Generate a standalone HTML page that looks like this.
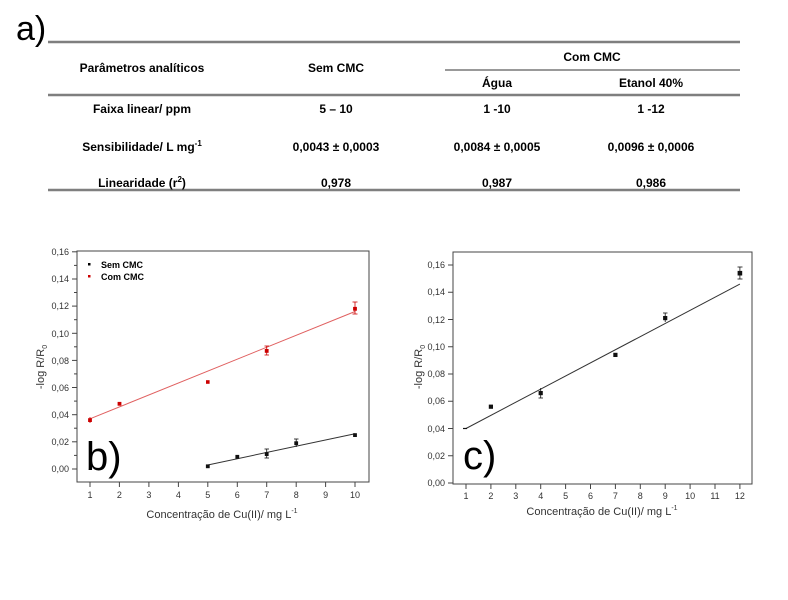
<!DOCTYPE html>
<html><head><meta charset="utf-8"><style>
body{margin:0;background:#fff;width:788px;height:600px;overflow:hidden}
svg{position:absolute;left:0;top:0}
text{font-family:"Liberation Sans",sans-serif}
</style></head><body>
<svg width="788" height="600" viewBox="0 0 788 600" xmlns="http://www.w3.org/2000/svg">
<!-- Table -->
<text x="16" y="40" font-size="34" fill="#000">a)</text>
<g stroke="#7f7f7f" stroke-width="2.5">
<line x1="48" y1="42" x2="740" y2="42"/>
<line x1="48" y1="95" x2="740" y2="95"/>
<line x1="48" y1="190" x2="740" y2="190"/>
</g>
<line x1="445" y1="70" x2="740" y2="70" stroke="#333" stroke-width="1"/>
<g font-size="12" font-weight="bold" text-anchor="middle" fill="#000">
<text x="142" y="72">Parâmetros analíticos</text>
<text x="336" y="72">Sem CMC</text>
<text x="592" y="61">Com CMC</text>
<text x="497" y="87">Água</text>
<text x="651" y="87">Etanol 40%</text>
<text x="142" y="113">Faixa linear/ ppm</text>
<text x="336" y="113">5 – 10</text>
<text x="497" y="113">1 -10</text>
<text x="651" y="113">1 -12</text>
<text x="142" y="151">Sensibilidade/ L mg<tspan font-size="8" dy="-5">-1</tspan></text>
<text x="336" y="151">0,0043 ± 0,0003</text>
<text x="497" y="151">0,0084 ± 0,0005</text>
<text x="651" y="151">0,0096 ± 0,0006</text>
<text x="142" y="187">Linearidade (r<tspan font-size="8" dy="-5">2</tspan><tspan dy="5">)</tspan></text>
<text x="336" y="187">0,978</text>
<text x="497" y="187">0,987</text>
<text x="651" y="187">0,986</text>
</g>

<!-- Chart b -->
<rect x="77" y="251" width="292" height="231" fill="none" stroke="#444" stroke-width="1"/>
<g stroke="#444" stroke-width="1">
<line x1="90" y1="482" x2="90" y2="487"/><line x1="119.4" y1="482" x2="119.4" y2="487"/><line x1="148.9" y1="482" x2="148.9" y2="487"/><line x1="178.4" y1="482" x2="178.4" y2="487"/><line x1="207.8" y1="482" x2="207.8" y2="487"/><line x1="237.3" y1="482" x2="237.3" y2="487"/><line x1="266.7" y1="482" x2="266.7" y2="487"/><line x1="296.2" y1="482" x2="296.2" y2="487"/><line x1="325.6" y1="482" x2="325.6" y2="487"/><line x1="355" y1="482" x2="355" y2="487"/>
<line x1="72" y1="469" x2="77" y2="469"/><line x1="72" y1="441.8" x2="77" y2="441.8"/><line x1="72" y1="414.7" x2="77" y2="414.7"/><line x1="72" y1="387.5" x2="77" y2="387.5"/><line x1="72" y1="360.4" x2="77" y2="360.4"/><line x1="72" y1="333.3" x2="77" y2="333.3"/><line x1="72" y1="306.1" x2="77" y2="306.1"/><line x1="72" y1="279" x2="77" y2="279"/><line x1="72" y1="251.8" x2="77" y2="251.8"/>
<line x1="74" y1="455.4" x2="77" y2="455.4"/><line x1="74" y1="428.2" x2="77" y2="428.2"/><line x1="74" y1="401.1" x2="77" y2="401.1"/><line x1="74" y1="373.9" x2="77" y2="373.9"/><line x1="74" y1="346.8" x2="77" y2="346.8"/><line x1="74" y1="319.7" x2="77" y2="319.7"/><line x1="74" y1="292.5" x2="77" y2="292.5"/><line x1="74" y1="265.4" x2="77" y2="265.4"/>
</g>
<g font-size="9" fill="#333" text-anchor="end">
<text x="69" y="472">0,00</text><text x="69" y="445">0,02</text><text x="69" y="418">0,04</text><text x="69" y="391">0,06</text><text x="69" y="364">0,08</text><text x="69" y="337">0,10</text><text x="69" y="309">0,12</text><text x="69" y="282">0,14</text><text x="69" y="255">0,16</text>
</g>
<g font-size="9" fill="#333" text-anchor="middle">
<text x="90" y="498">1</text><text x="119.4" y="498">2</text><text x="148.9" y="498">3</text><text x="178.4" y="498">4</text><text x="207.8" y="498">5</text><text x="237.3" y="498">6</text><text x="266.7" y="498">7</text><text x="296.2" y="498">8</text><text x="325.6" y="498">9</text><text x="355" y="498">10</text>
<text x="222" y="518" font-size="11">Concentração de Cu(II)/ mg L<tspan font-size="7" dy="-5">-1</tspan></text>
</g>
<text transform="translate(44,367) rotate(-90)" font-size="11" fill="#333" text-anchor="middle">-log R/R<tspan font-size="7" dy="3">0</tspan></text>
<rect x="88" y="263" width="2.5" height="2.5" fill="#000"/>
<rect x="88" y="275" width="2.5" height="2.5" fill="#c00"/>
<text x="101" y="268" font-size="9" font-weight="bold" fill="#000">Sem CMC</text>
<text x="101" y="280" font-size="9" font-weight="bold" fill="#000">Com CMC</text>
<line x1="90" y1="418.8" x2="355" y2="311.5" stroke="#e06060" stroke-width="1"/>
<line x1="207.8" y1="465" x2="355" y2="433.7" stroke="#333" stroke-width="1"/>
<g fill="#c00" stroke="#c00" stroke-width="0.8">
<rect x="88.5" y="418.6" width="3" height="3"/><line x1="90" y1="417" x2="90" y2="423"/>
<rect x="118" y="402.3" width="3" height="3"/>
<rect x="206.4" y="380.6" width="2.8" height="2.8"/>
<rect x="265.2" y="349.4" width="3" height="3"/><line x1="266.7" y1="346" x2="266.7" y2="355"/><line x1="264.5" y1="346" x2="269" y2="346"/><line x1="264.5" y1="355" x2="269" y2="355"/>
<rect x="353.5" y="307.3" width="3" height="3"/><line x1="355" y1="302" x2="355" y2="314"/><line x1="352.5" y1="302" x2="357.5" y2="302"/><line x1="352.5" y1="314" x2="357.5" y2="314"/>
</g>
<g fill="#111" stroke="#111" stroke-width="0.8">
<rect x="206.3" y="464.8" width="3" height="3"/>
<rect x="235.8" y="455.3" width="3" height="3"/>
<rect x="265.2" y="452.6" width="3" height="3"/><line x1="266.7" y1="449" x2="266.7" y2="458"/><line x1="264.5" y1="449" x2="269" y2="449"/><line x1="264.5" y1="458" x2="269" y2="458"/>
<rect x="294.7" y="441.7" width="3" height="3"/><line x1="296.2" y1="439" x2="296.2" y2="447"/><line x1="294" y1="439" x2="298.5" y2="439"/>
<rect x="353.5" y="433.6" width="3" height="3"/>
</g>
<text x="86" y="470" font-size="40" fill="#000">b)</text>

<!-- Chart c -->
<rect x="453" y="252" width="299" height="232" fill="none" stroke="#444" stroke-width="1"/>
<g stroke="#444" stroke-width="1">
<line x1="466" y1="484" x2="466" y2="489"/><line x1="490.9" y1="484" x2="490.9" y2="489"/><line x1="515.8" y1="484" x2="515.8" y2="489"/><line x1="540.7" y1="484" x2="540.7" y2="489"/><line x1="565.6" y1="484" x2="565.6" y2="489"/><line x1="590.5" y1="484" x2="590.5" y2="489"/><line x1="615.4" y1="484" x2="615.4" y2="489"/><line x1="640.3" y1="484" x2="640.3" y2="489"/><line x1="665.2" y1="484" x2="665.2" y2="489"/><line x1="690.1" y1="484" x2="690.1" y2="489"/><line x1="715" y1="484" x2="715" y2="489"/><line x1="739.9" y1="484" x2="739.9" y2="489"/>
<line x1="448" y1="483" x2="453" y2="483"/><line x1="448" y1="455.75" x2="453" y2="455.75"/><line x1="448" y1="428.5" x2="453" y2="428.5"/><line x1="448" y1="401.25" x2="453" y2="401.25"/><line x1="448" y1="374" x2="453" y2="374"/><line x1="448" y1="346.75" x2="453" y2="346.75"/><line x1="448" y1="319.5" x2="453" y2="319.5"/><line x1="448" y1="292.25" x2="453" y2="292.25"/><line x1="448" y1="265" x2="453" y2="265"/>
</g>
<g font-size="9" fill="#333" text-anchor="end">
<text x="445" y="486">0,00</text><text x="445" y="459">0,02</text><text x="445" y="432">0,04</text><text x="445" y="404">0,06</text><text x="445" y="377">0,08</text><text x="445" y="350">0,10</text><text x="445" y="323">0,12</text><text x="445" y="295">0,14</text><text x="445" y="268">0,16</text>
</g>
<g font-size="9" fill="#333" text-anchor="middle">
<text x="466" y="499">1</text><text x="490.9" y="499">2</text><text x="515.8" y="499">3</text><text x="540.7" y="499">4</text><text x="565.6" y="499">5</text><text x="590.5" y="499">6</text><text x="615.4" y="499">7</text><text x="640.3" y="499">8</text><text x="665.2" y="499">9</text><text x="690.1" y="499">10</text><text x="715" y="499">11</text><text x="739.9" y="499">12</text>
<text x="602" y="515" font-size="11">Concentração de Cu(II)/ mg L<tspan font-size="7" dy="-5">-1</tspan></text>
</g>
<text transform="translate(422,367) rotate(-90)" font-size="11" fill="#333" text-anchor="middle">-log R/R<tspan font-size="7" dy="3">0</tspan></text>
<line x1="466" y1="428.5" x2="739.9" y2="284.1" stroke="#333" stroke-width="1"/>
<line x1="463" y1="428.5" x2="467" y2="428.5" stroke="#111" stroke-width="1.2"/>
<g fill="#111" stroke="#111" stroke-width="0.8">
<rect x="489.2" y="405" width="3.4" height="3.4"/>
<rect x="539" y="391.4" width="3.4" height="3.4"/><line x1="540.7" y1="388" x2="540.7" y2="398"/><line x1="538.5" y1="398" x2="543" y2="398"/>
<rect x="613.7" y="353.2" width="3.4" height="3.4"/>
<rect x="663.5" y="316.4" width="3.4" height="3.4"/><line x1="665.2" y1="313" x2="665.2" y2="322"/><line x1="663" y1="313" x2="667.5" y2="313"/>
<rect x="738" y="271.3" width="3.8" height="3.8"/><line x1="739.9" y1="267" x2="739.9" y2="279"/><line x1="737.5" y1="267" x2="742.5" y2="267"/><line x1="737.5" y1="279" x2="742.5" y2="279"/>
</g>
<text x="463" y="469" font-size="40" fill="#000">c)</text>
</svg>
</body></html>
